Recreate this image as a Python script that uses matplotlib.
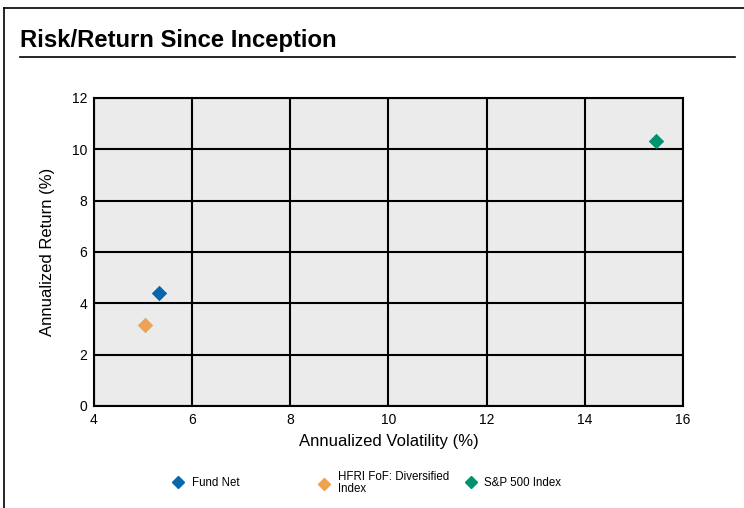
import matplotlib.pyplot as plt
from matplotlib.lines import Line2D

plt.rcParams['font.family'] = ['Liberation Sans', 'DejaVu Sans']

# Data
series = ["Fund Net", "HFRI FoF: Diversified\nIndex", "S&P 500 Index"]
volatility = [5.33, 5.03, 15.44]
returns = [4.40, 3.17, 10.32]
colors = ["#0867AB", "#F0A253", "#00936E"]

x_ticks = [4, 6, 8, 10, 12, 14, 16]
y_ticks = [0, 2, 4, 6, 8, 10, 12]

fig = plt.figure(figsize=(7.44, 5.08), dpi=100)
fig.patch.set_facecolor('white')

# Outer frame (left + top) and title rule
fig.add_artist(Line2D([0.005, 0.005], [0.0, 0.985], color='black', lw=1.2, transform=fig.transFigure))
fig.add_artist(Line2D([0.005, 1.0], [0.985, 0.985], color='black', lw=1.2, transform=fig.transFigure))
fig.add_artist(Line2D([0.027, 0.988], [0.888, 0.888], color='black', lw=1.2, transform=fig.transFigure))
fig.text(0.027, 0.897, "Risk/Return Since Inception", fontsize=17.2, fontweight='bold',
         ha='left', va='bottom')

ax = fig.add_axes([0.1263, 0.2008, 0.7917, 0.6063])
ax.set_facecolor('#EBEBEB')
ax.set_xlim(4, 16)
ax.set_ylim(0, 12)
ax.set_xticks(x_ticks)
ax.set_yticks(y_ticks)
ax.grid(True, color='black', linewidth=1.5)
ax.set_axisbelow(True)
for s in ax.spines.values():
    s.set_color('black')
    s.set_linewidth(1.5)
ax.tick_params(axis='both', labelsize=10, length=0, pad=5)

for x, y, c in zip(volatility, returns, colors):
    ax.scatter(x, y, marker='D', s=62, color=c, zorder=3, linewidths=0)

ax.set_xlabel("Annualized Volatility (%)", fontsize=12, labelpad=5)
ax.set_ylabel("Annualized Return (%)", fontsize=12, labelpad=12)

# Legend, one entry per slot
legend_x = [0.224, 0.420, 0.617]
for name, c, lx in zip(series, colors, legend_x):
    h = Line2D([], [], marker='D', linestyle='none', color=c, markersize=6.5)
    lg = fig.legend([h], [name], loc='center left', bbox_to_anchor=(lx, 0.049),
                    frameon=False, fontsize=8.3, handletextpad=0.6, handlelength=1.2,
                    borderaxespad=0)
    for t in lg.get_texts():
        t.set_linespacing(1.05)

fig.savefig('out.png', dpi=100)
